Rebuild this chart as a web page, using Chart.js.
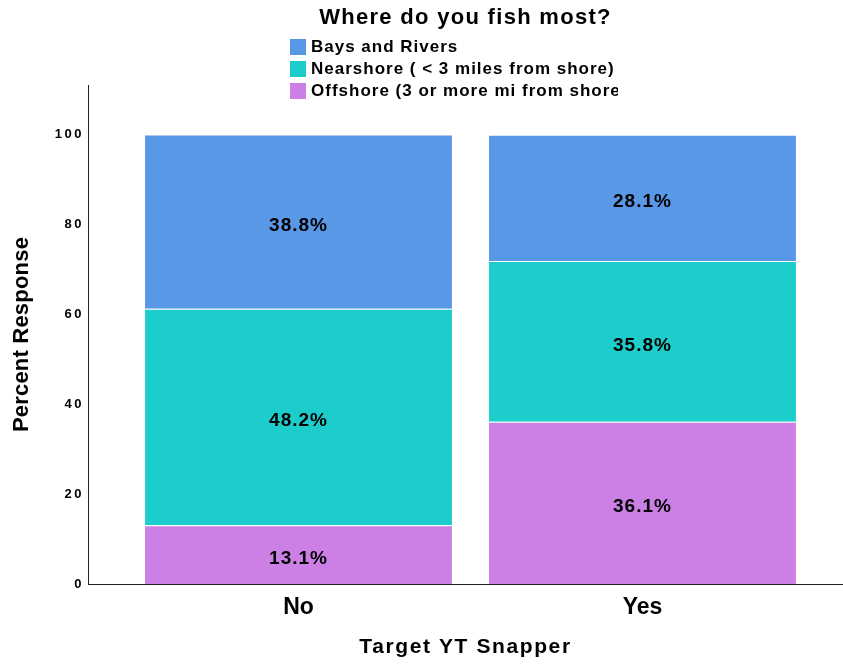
<!DOCTYPE html>
<html><head><meta charset="utf-8">
<script src="https://cdn.jsdelivr.net/npm/chart.js@4/dist/chart.umd.min.js"></script>
<style>html,body{margin:0;padding:0;background:#fff;}canvas{display:block;}</style>
</head><body>
<canvas id="c" width="843" height="664"></canvas>
<script>
const categories = ['No', 'Yes'];
const seriesNames = ['Offshore (3 or more mi from shore)', 'Nearshore ( < 3 miles from shore)', 'Bays and Rivers'];
const offshore = [13.1, 36.1];
const nearshore = [48.2, 35.8];
const baysRivers = [38.8, 28.1];
const yTicks = [0, 20, 40, 60, 80, 100];
const chartTitle = 'Where do you fish most?';

const colors = ['#cc80e5', '#1dcdcb', '#5898e6'];
const FONT = '"Liberation Sans", Arial, sans-serif';

const datasets = [offshore, nearshore, baysRivers].map((vals, i) => ({
  label: seriesNames[i],
  data: vals.map((v, j) => ({x: j, y: v})),
  backgroundColor: colors[i],
  borderColor: 'rgba(255,255,255,0.35)',
  borderWidth: 1,
  barPercentage: 0.898,
  categoryPercentage: 1.0
}));

const labelSpacing = { x: '0px', y: '2.5px' };
const titleSpacing = { x: '1.6px', y: '0.2px' };

const spacingPlugin = {
  id: 'spacing',
  beforeDraw(chart) {
    const ctx = chart.ctx;
    ['x', 'y'].forEach(id => {
      const s = chart.scales[id];
      if (s && !s._spPatched) {
        const origLabels = s.drawLabels.bind(s);
        const origTitle = s.drawTitle.bind(s);
        s.drawLabels = function (a) { ctx.letterSpacing = labelSpacing[id]; origLabels(a); ctx.letterSpacing = '0px'; };
        s.drawTitle = function (a) { ctx.letterSpacing = titleSpacing[id]; origTitle(a); ctx.letterSpacing = '0px'; };
        s._spPatched = true;
      }
    });
  }
};

const overlay = {
  id: 'overlay',
  afterDraw(chart) {
    const ctx = chart.ctx;
    const area = chart.chartArea;
    ctx.save();
    // title
    ctx.fillStyle = '#000';
    ctx.letterSpacing = '1.3px';
    ctx.font = 'bold 22px ' + FONT;
    ctx.textAlign = 'center';
    ctx.textBaseline = 'middle';
    ctx.fillText(chartTitle, (area.left + area.right) / 2, 18);
    // legend (top item first)
    const order = [2, 1, 0];
    ctx.textAlign = 'left';
    ctx.letterSpacing = '1px';
    ctx.font = 'bold 17px ' + FONT;
    order.forEach((di, k) => {
      const y0 = 39 + k * 22;
      ctx.fillStyle = colors[di];
      ctx.fillRect(290, y0, 16, 16);
      ctx.save();
      ctx.beginPath();
      ctx.rect(300, y0 - 6, 318, 30);
      ctx.clip();
      ctx.fillStyle = '#000';
      ctx.fillText(seriesNames[di], 311, y0 + 8);
      ctx.restore();
    });
    // data labels
    ctx.letterSpacing = '1px';
    ctx.font = 'bold 19px ' + FONT;
    ctx.textAlign = 'center';
    ctx.fillStyle = '#000';
    chart.data.datasets.forEach((ds, di) => {
      const meta = chart.getDatasetMeta(di);
      meta.data.forEach((el, i) => {
        const v = ds.data[i].y;
        ctx.fillText(v.toFixed(1) + '%', el.x, (el.y + el.base) / 2 + 4);
      });
    });
    ctx.letterSpacing = '0px';
    ctx.restore();
  }
};

new Chart(document.getElementById('c'), {
  type: 'bar',
  data: { datasets },
  plugins: [spacingPlugin, overlay],
  options: {
    responsive: false,
    animation: false,
    layout: { padding: { top: 85, right: 0, left: 0, bottom: 0 } },
    plugins: { legend: { display: false }, title: { display: false }, tooltip: { enabled: false } },
    scales: {
      x: {
        type: 'linear',
        stacked: true,
        offset: false,
        min: -0.612,
        max: 1.583,
        afterFit(s) { s.height = 80; },
        afterBuildTicks(s) { s.ticks = categories.map((c, i) => ({ value: i })); },
        grid: { display: false, drawTicks: false },
        border: { display: true, color: '#222', width: 1 },
        ticks: {
          callback: (v) => categories[v] ?? '',
          color: '#000',
          font: { family: '"Liberation Sans Narrow", "Liberation Sans", sans-serif', size: 23, weight: 'bold' },
          padding: 10,
          maxRotation: 0
        },
        title: {
          display: true, text: 'Target YT Snapper', color: '#000',
          font: { family: FONT, size: 21, weight: 'bold' },
          padding: { top: 0, bottom: 4 }
        }
      },
      y: {
        stacked: true,
        min: 0,
        max: 111.1,
        afterFit(s) { s.width = 88; },
        afterBuildTicks(s) { s.ticks = yTicks.map(v => ({ value: v })); },
        grid: { display: false, drawTicks: false },
        border: { display: true, color: '#222', width: 1 },
        ticks: {
          color: '#000',
          font: { family: FONT, size: 13, weight: 'bold' },
          padding: 4
        },
        title: {
          display: true, text: 'Percent Response', color: '#000',
          font: { family: FONT, size: 22, weight: 'bold' },
          padding: { top: 9, bottom: 0 }
        }
      }
    }
  }
});
</script>
</body></html>
